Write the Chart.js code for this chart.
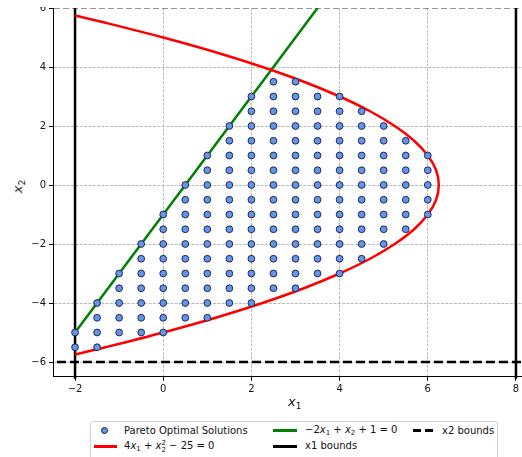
<!DOCTYPE html>
<html>
<head>
<meta charset="utf-8">
<script src="https://cdn.jsdelivr.net/npm/chart.js@4/dist/chart.umd.min.js"></script>
<style>
  html, body { margin:0; padding:0; background:#fff; overflow:hidden; width:522px; height:457px; }
  body { position:relative; font-family:"DejaVu Sans", sans-serif; color:#111; }
  #crop { position:absolute; left:0; top:7px; width:560px; height:450px; overflow:hidden; }
  #wrap { position:absolute; left:0; top:-37px; width:560px; height:445px; }
  .axt { position:absolute; font-size:13px; white-space:nowrap; }
  .axt sub { font-size:9px; vertical-align:-3px; }
  #legend { position:absolute; left:90px; top:421px; width:408px; height:50px; border:1px solid #d0d0d0; border-radius:3px; box-sizing:border-box; background:#fff; font-size:10px; }
  .it { position:absolute; white-space:nowrap; line-height:12px; }
  .it i, .axt i { font-style:italic; }
  .it sub { font-size:7px; vertical-align:-2px; }
  .ss { display:inline-block; vertical-align:-3px; font-size:7px; line-height:7px; }
  .ss span { display:block; }
  .h { position:absolute; height:3px; }
</style>
</head>
<body>
<div id="crop"><div id="wrap"><canvas id="chart" width="560" height="445"></canvas></div></div>

<div class="axt" style="left:288px; top:394px;"><i>x</i><sub>1</sub></div>
<div class="axt" style="left:12px; top:178px; transform:rotate(-90deg); transform-origin:center;"><i>x</i><sub>2</sub></div>

<div id="legend">
  <!-- handles, relative to the legend box -->
  <div style="position:absolute; left:10px; top:5px; width:7px; height:7px; border-radius:50%; background:#6495ED; border:1px solid #1a1a3a; box-sizing:border-box;"></div>
  <div class="h" style="left:3px; top:23px; width:23px; background:#ff0000;"></div>
  <div class="h" style="left:182px; top:7px; width:24px; background:#008000;"></div>
  <div class="h" style="left:182px; top:23px; width:24px; background:#000;"></div>
  <div class="h" style="left:322px; top:7px; width:8px; background:#000;"></div>
  <div class="h" style="left:334px; top:7px; width:8px; background:#000;"></div>

  <div class="it" style="left:33px; top:3px;">Pareto Optimal Solutions</div>
  <div class="it" style="left:33px; top:18px;">4<i>x</i><sub>1</sub> + <i>x</i><span class="ss"><span>2</span><span>2</span></span> − 25 = 0</div>
  <div class="it" style="left:214px; top:2px;">−2<i>x</i><sub>1</sub> + <i>x</i><sub>2</sub> + 1 = 0</div>
  <div class="it" style="left:214px; top:18px;">x1 bounds</div>
  <div class="it" style="left:351px; top:3px;">x2 bounds</div>
</div>

<script>
// Pareto points, one column per x1 value
const paretoX1 = [-2, -1.5, -1, -0.5, 0, 0.5, 1, 1.5, 2, 2.5, 3, 3.5, 4, 4.5, 5, 5.5, 6];
const paretoX2 = [
  [-5, -5.5],
  [-4, -4.5, -5, -5.5],
  [-3, -3.5, -4, -4.5, -5],
  [-2, -2.5, -3, -3.5, -4, -4.5, -5],
  [-1, -1.5, -2, -2.5, -3, -3.5, -4, -4.5, -5],
  [0, -0.5, -1, -1.5, -2, -2.5, -3, -3.5, -4, -4.5],
  [1, 0.5, 0, -0.5, -1, -1.5, -2, -2.5, -3, -3.5, -4, -4.5],
  [2, 1.5, 1, 0.5, 0, -0.5, -1, -1.5, -2, -2.5, -3, -3.5, -4],
  [3, 2.5, 2, 1.5, 1, 0.5, 0, -0.5, -1, -1.5, -2, -2.5, -3, -3.5, -4],
  [3.5, 3, 2.5, 2, 1.5, 1, 0.5, 0, -0.5, -1, -1.5, -2, -2.5, -3, -3.5],
  [3.5, 3, 2.5, 2, 1.5, 1, 0.5, 0, -0.5, -1, -1.5, -2, -2.5, -3, -3.5],
  [3, 2.5, 2, 1.5, 1, 0.5, 0, -0.5, -1, -1.5, -2, -2.5, -3],
  [3, 2.5, 2, 1.5, 1, 0.5, 0, -0.5, -1, -1.5, -2, -2.5, -3],
  [2.5, 2, 1.5, 1, 0.5, 0, -0.5, -1, -1.5, -2, -2.5],
  [2, 1.5, 1, 0.5, 0, -0.5, -1, -1.5, -2],
  [1.5, 1, 0.5, 0, -0.5, -1, -1.5],
  [1, 0.5, 0, -0.5, -1]
];

// red curve 4x1 + x2^2 - 25 = 0
const curveX2 = [5.745, 5.5, 5, 4.5, 4, 3.5, 3, 2.5, 2, 1.5, 1, 0.5, 0,
                 -0.5, -1, -1.5, -2, -2.5, -3, -3.5, -4, -4.5, -5, -5.5, -5.745];
const curveX1 = [-2, -1.31, 0, 1.19, 2.25, 3.19, 4, 4.69, 5.25, 5.69, 6, 6.19, 6.25,
                 6.19, 6, 5.69, 5.25, 4.69, 4, 3.19, 2.25, 1.19, 0, -1.31, -2];

// green line -2x1 + x2 + 1 = 0
const lineX1 = [-2, 4];
const lineX2 = [-5, 7];

// bounds
const x1Bounds = [-2, 8];
const x2Bound = -6;

const xTicks = [-2, 0, 2, 4, 6, 8];
const yTicks = [-6, -4, -2, 0, 2, 4, 6];

function toPoints(xs, ys){
    return xs.map((x, i) => ({x: x, y: ys[i]}));
}

let pareto = [];
paretoX1.forEach((x, i) => {
    paretoX2[i].forEach((y) => pareto.push({x: x, y: y}));
});

const ctx = document.getElementById('chart').getContext('2d');

const isTop = (c) => c.tick && c.tick.value === 6 && c.scale.axis === 'y';
const gridStyle = {
    color: (c) => isTop(c) ? 'rgba(110,110,110,0.9)' : 'rgba(140,140,140,0.75)',
    lineWidth: 0.8,
    tickColor: '#000',
    tickLength: 4,
    tickWidth: 1,
    tickBorderDash: []
};
const borderStyle = {
    color: '#000',
    width: 1,
    dash: (c) => isTop(c) ? [6, 3] : [3, 1.3]
};
const tickFont = {family: 'DejaVu Sans', size: 10};
const minus = (v) => String(v).replace('-', '\u2212');

let chart = new Chart(ctx, {
    type: 'scatter',
    data: {
        datasets: [{
            label: 'Pareto Optimal Solutions',
            data: pareto,
            backgroundColor: '#6495ED',
            borderColor: '#1a1a3a',
            borderWidth: 0.9,
            pointRadius: 3.4,
            order: 0
        }, {
            label: '4x1 + x2^2 - 25 = 0',
            type: 'line',
            data: toPoints(curveX1, curveX2),
            borderColor: '#ff0000',
            borderWidth: 2.5,
            pointRadius: 0,
            tension: 0.35,
            fill: false,
            order: 2
        }, {
            label: '-2x1 + x2 + 1 = 0',
            type: 'line',
            data: toPoints(lineX1, lineX2),
            borderColor: '#008000',
            borderWidth: 2.5,
            pointRadius: 0,
            fill: false,
            clip: 0,
            order: 2
        }, {
            label: 'x1 bounds',
            type: 'line',
            data: [{x: x1Bounds[0], y: -7}, {x: x1Bounds[0], y: 7}],
            borderColor: '#000',
            borderWidth: 2.5,
            pointRadius: 0,
            clip: {left: 2, right: 2, top: 0, bottom: 2},
            order: 3
        }, {
            label: 'x1 bounds (upper)',
            type: 'line',
            data: [{x: x1Bounds[1], y: -7}, {x: x1Bounds[1], y: 7}],
            borderColor: '#000',
            borderWidth: 2.5,
            pointRadius: 0,
            clip: {left: 2, right: 2, top: 0, bottom: 2},
            order: 3
        }, {
            label: 'x2 bounds',
            type: 'line',
            data: [{x: -3, y: x2Bound}, {x: 9, y: x2Bound}],
            borderColor: '#000',
            borderWidth: 2.5,
            borderDash: [9, 4],
            pointRadius: 0,
            order: 3
        }]
    },
    options: {
        responsive: false,
        animation: false,
        devicePixelRatio: 1,
        layout: {padding: {left: 0, right: 22, top: 38, bottom: 0}},
        plugins: {legend: {display: false}, tooltip: {enabled: false}},
        scales: {
            x: {
                type: 'linear',
                min: -2.5, max: 8.5,
                afterFit: (s) => { s.height = 38.25; },
                afterBuildTicks: (s) => { s.ticks = xTicks.map(v => ({value: v})); },
                ticks: {font: tickFont, color: '#111', padding: 3, callback: minus},
                grid: gridStyle,
                border: borderStyle
            },
            y: {
                type: 'linear',
                min: -6.5, max: 6,
                afterFit: (s) => { s.width = 53; },
                afterBuildTicks: (s) => { s.ticks = yTicks.map(v => ({value: v})); },
                ticks: {font: tickFont, color: '#111', padding: 3, callback: minus},
                grid: gridStyle,
                border: borderStyle
            }
        }
    }
});
</script>
</body>
</html>
